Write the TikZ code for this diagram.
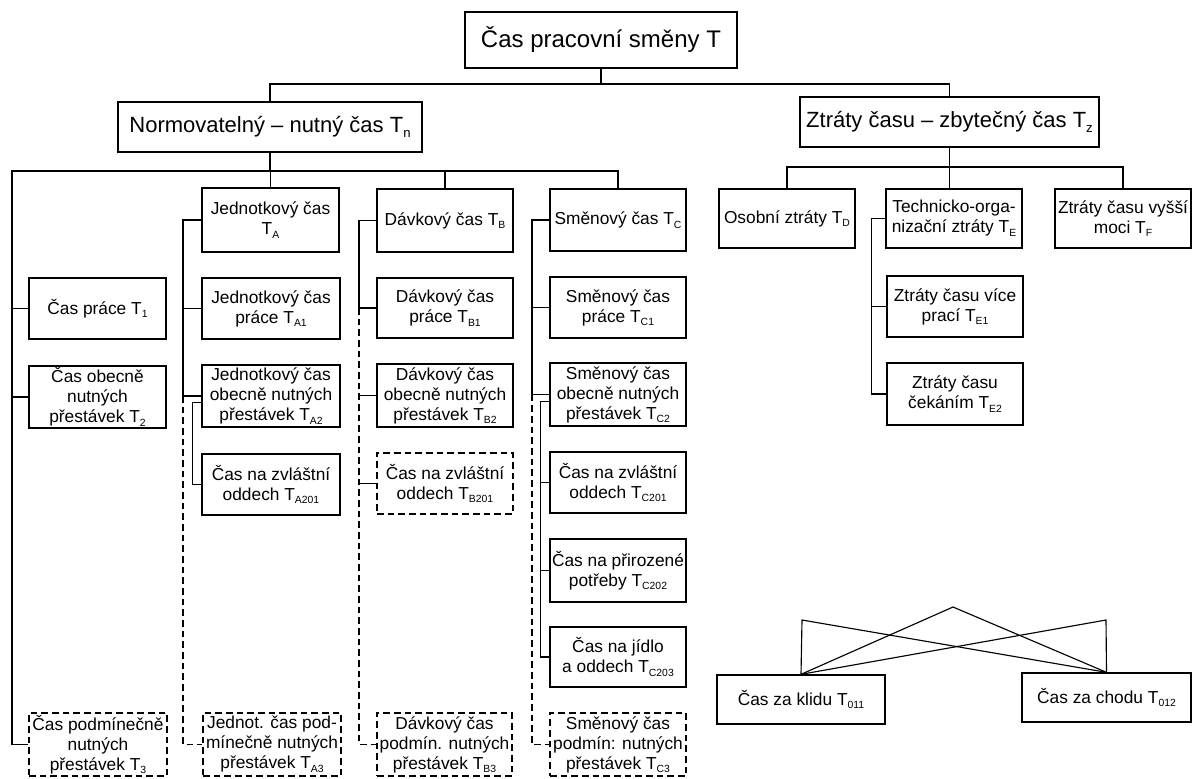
\documentclass[tikz,border=0pt]{standalone}
\usepackage{fontspec}
\setmainfont{Liberation Sans}
\newcommand\sbs[1]{\raisebox{-0.4ex}{\scalebox{0.6}{#1}}}
\tikzset{
  box/.style={draw, line width=1pt, inner sep=0pt, align=center, font=\fontsize{13}{15}\selectfont},
  dbox/.style={box, dash pattern=on 5pt off 3pt},
  lvltwo/.style={font=\fontsize{16.5}{19}\selectfont},
  lvlone/.style={font=\fontsize{18}{21}\selectfont},
  conn/.style={line width=0.85pt},
  dconn/.style={conn, dash pattern=on 5pt off 3pt},
}
% \bx[style]{name}{x1}{y1}{x2}{y2}{text}
\newcommand\bx[7][box]{\node[#1, minimum width={(#5-#3)*0.75pt}, minimum height={(#6-#4)*0.75pt}] (#2) at ({(#3+#5)/2},{(#4+#6)/2}) {#7};}
\begin{document}
\begin{tikzpicture}[x=0.75pt,y=-0.75pt]
\useasboundingbox (0,0) rectangle (1202,778);
% top levels
\bx[box,lvlone]{T}{465}{12}{737}{68}{Čas pracovní směny T}
\bx[box,lvltwo]{Tn}{118}{102}{422}{152}{Normovatelný – nutný čas T\sbs{n}}
\bx[box,lvltwo]{Tz}{800}{97}{1099}{147}{Ztráty času – zbytečný čas T\sbs{z}}
% level 3
\bx{TA}{202}{188}{339}{252}{Jednotkový čas\\T\sbs{A}}
\bx{TB}{377}{189}{513}{252}{Dávkový čas T\sbs{B}}
\bx{TC}{550}{189}{686}{251}{Směnový čas T\sbs{C}}
\bx{TD}{719}{189}{855}{248}{Osobní ztráty T\sbs{D}}
\bx{TE}{886}{189}{1022}{248}{Technicko-orga-\\nizační ztráty T\sbs{E}}
\bx{TF}{1055}{189}{1191}{248}{Ztráty času vyšší\\moci T\sbs{F}}
% left column
\bx{T1}{29}{278}{166}{339}{Čas práce T\sbs{1}}
\bx{T2}{29}{366}{166}{428}{Čas obecně\\nutných\\přestávek T\sbs{2}}
\bx[dbox]{T3}{29}{713}{167}{776}{Čas podmínečně\\nutných\\přestávek T\sbs{3}}
% Jednotkovy
\bx{TA1}{202}{278}{340}{339}{Jednotkový čas\\práce T\sbs{A1}}
\bx{TA2}{202}{365}{340}{427}{Jednotkový čas\\obecně nutných\\přestávek T\sbs{A2}}
\bx{TA201}{202}{454}{340}{515}{Čas na zvláštní\\oddech T\sbs{A201}}
\bx[dbox]{TA3}{203}{713}{341}{776}{Jednot. čas pod-\\mínečně nutných\\přestávek T\sbs{A3}}
% Davkovy
\bx{TB1}{377}{278}{513}{338}{Dávkový čas\\práce T\sbs{B1}}
\bx{TB2}{377}{364}{513}{427}{Dávkový čas\\obecně nutných\\přestávek T\sbs{B2}}
\bx[dbox]{TB201}{377}{453}{513}{514}{Čas na zvláštní\\oddech T\sbs{B201}}
\bx[dbox]{TB3}{377}{713}{512}{776}{Dávkový čas\\podmín. nutných\\přestávek T\sbs{B3}}
% Smenovy
\bx{TC1}{550}{277}{686}{338}{Směnový čas\\práce T\sbs{C1}}
\bx{TC2}{550}{363}{686}{426}{Směnový čas\\obecně nutných\\přestávek T\sbs{C2}}
\bx{TC201}{550}{452}{686}{513}{Čas na zvláštní\\oddech T\sbs{C201}}
\bx{TC202}{550}{539}{686}{602}{Čas na přirozené\\potřeby T\sbs{C202}}
\bx{TC203}{550}{627}{686}{687}{Čas na jídlo\\a oddech T\sbs{C203}}
\bx[dbox]{TC3}{550}{713}{686}{776}{Směnový čas\\podmín: nutných\\přestávek T\sbs{C3}}
% right side
\bx{TE1}{887}{276}{1023}{337}{Ztráty času více\\prací T\sbs{E1}}
\bx{TE2}{887}{363}{1023}{425}{Ztráty času\\čekáním T\sbs{E2}}
\bx{T011}{717}{675}{885}{724}{Čas za klidu T\sbs{011}}
\bx{T012}{1022}{673}{1191}{722}{Čas za chodu T\sbs{012}}

% connectors top
\coordinate (jT) at (601,84);
\draw[conn] (T.south) -- (jT);
\draw[conn] (Tn.north) |- (jT) -| (Tz.north);
% Tn children
\coordinate (jn) at (270,171);
\coordinate (ls) at (12,171);
\draw[conn] (Tn.south) -- (jn);
\draw[conn] (T3.west) -| (ls) -| (TC.north);
\draw[conn] (TA.north) -- (TA.north |- jn);
\draw[conn] (TB.north) -- (TB.north |- jn);
\draw[conn] (T1.west) -- (T1.west -| ls);
\draw[conn] (T2.west) -- (T2.west -| ls);
% Jednotkovy spine
\coordinate (sA) at (183,0);
\draw[conn] (TA.west) -| (sA |- TA2.west) -- (TA2.west);
\draw[conn] (TA1.west) -- (TA1.west -| sA);
\draw[dconn] (sA |- TA2.west) |- (TA3.west);
\draw[conn] ([yshift=-5pt]TA2.west) -- ++(-9,0) |- (TA201.west);
% Davkovy spine
\coordinate (sB) at (359,0);
\draw[conn] (TB.west) -| (sB |- TB1.west) -- (TB1.west);
\draw[dconn] (sB |- TB1.west) |- (TB3.west);
\draw[conn] (TB2.west) -- (TB2.west -| sB);
\draw[conn] (TB201.west) -- (TB201.west -| sB);
% Smenovy spine
\coordinate (sC) at (532,0);
\draw[conn] (TC.west) -| (sC |- TC2.west) -- (TC2.west);
\draw[conn] (TC1.west) -- (TC1.west -| sC);
\draw[dconn] (sC |- TC2.west) |- (TC3.west);
\draw[conn] ([yshift=-5pt]TC2.west) -- ++(-9,0) |- (TC203.west);
\draw[conn] (TC201.west) -- ++(-9,0);
\draw[conn] (TC202.west) -- ++(-9,0);
% Tz children
\coordinate (jz) at (956,167);
\draw[conn] (Tz.south) -- (Tz.south |- TE.north);
\draw[conn] (TD.north) |- (jz) -| (TF.north);
\draw[conn] (TE.west) -- ++(-14,0) |- (TE2.west);
\draw[conn] (TE1.west) -- ++(-14,0);
% crossing
\coordinate (apex) at (953,607);
\coordinate (lt) at (802,620);
\coordinate (rt) at (1106,620);
\draw[conn] (T011.north) -- (lt) -- (T012.north);
\draw[conn] (T012.north) -- (rt) -- (T011.north);
\draw[conn] (T011.north) -- (apex) -- (T012.north);
\end{tikzpicture}
\end{document}
